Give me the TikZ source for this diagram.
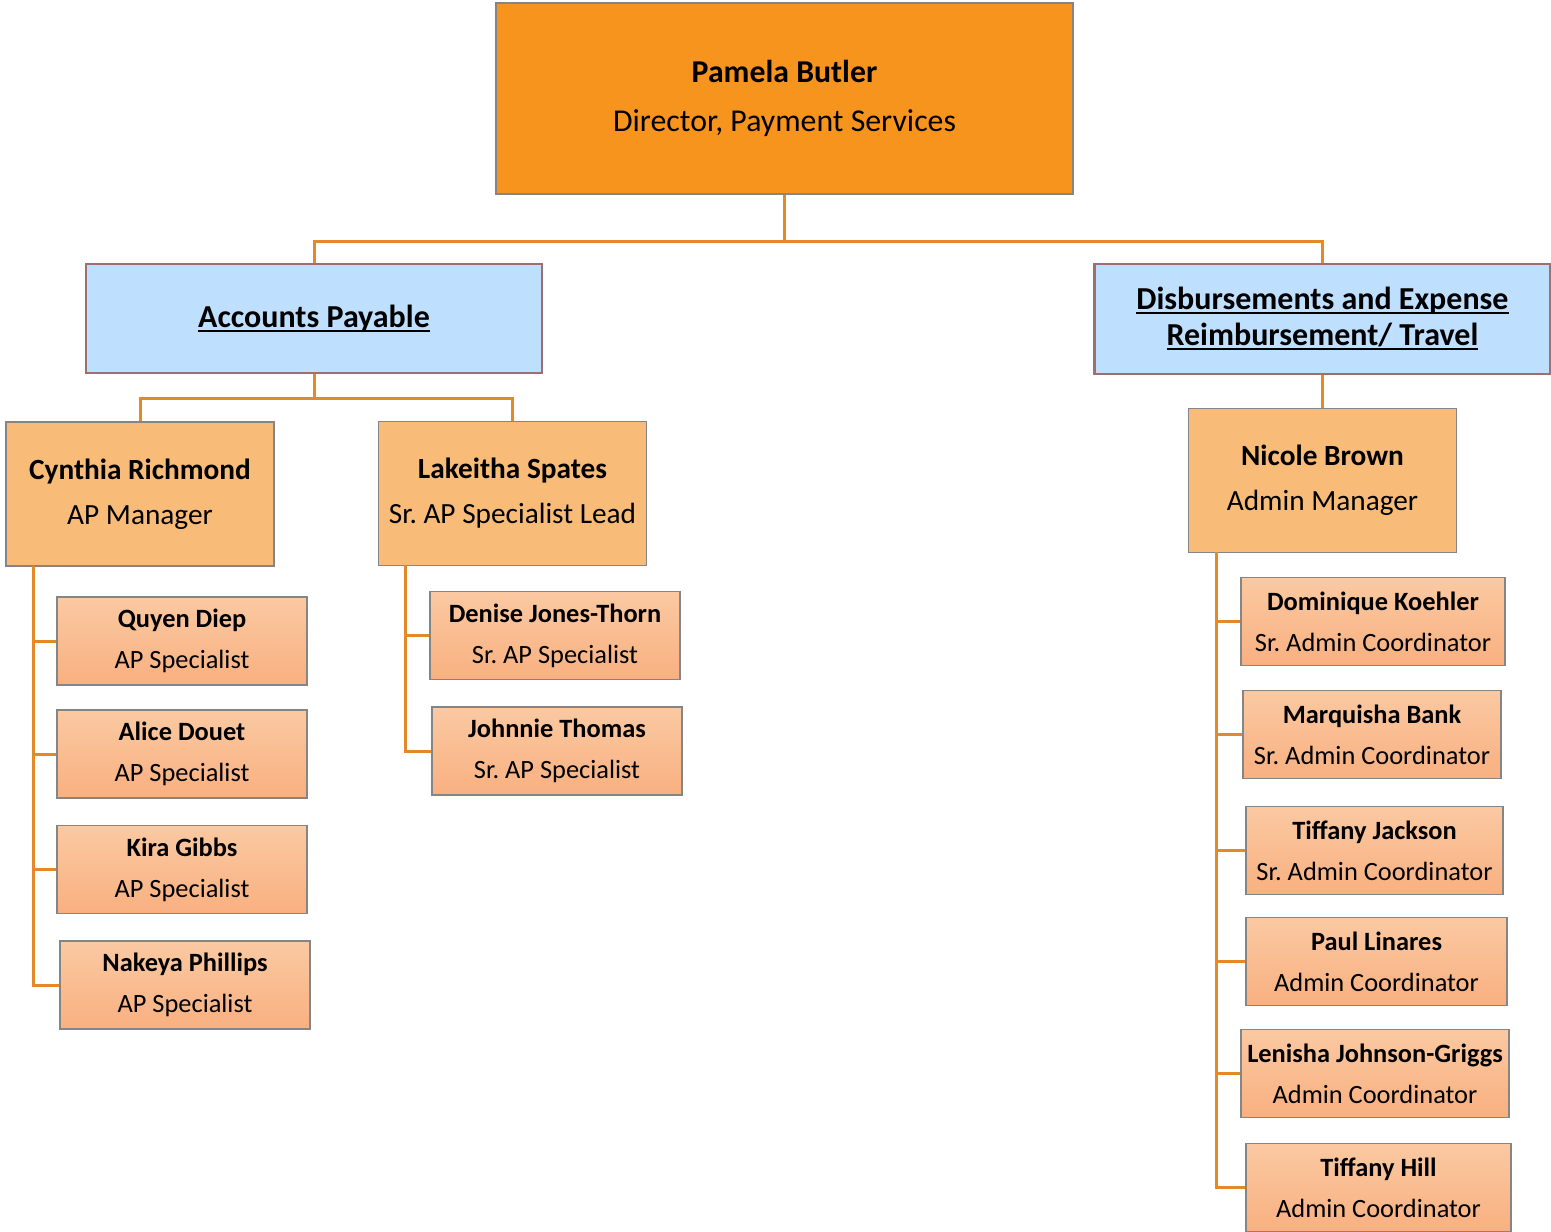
\documentclass[tikz,border=0pt]{standalone}
\usepackage{fontspec}
\setmainfont{Carlito}
\frenchspacing
\newcommand\ulbar[1]{\setbox0\hbox{#1}\rlap{\rule[-4.5pt]{\wd0}{2.2pt}}\box0}
\definecolor{dirfill}{HTML}{F7941E}
\definecolor{mgrfill}{HTML}{F8BC78}
\definecolor{leaftop}{HTML}{FAC9A2}
\definecolor{leafbot}{HTML}{F9B080}
\definecolor{deptfill}{HTML}{BFDFFF}
\definecolor{deptline}{HTML}{9E6E72}
\definecolor{boxline}{HTML}{858585}
\definecolor{wire}{HTML}{E3892A}
\tikzset{
  box/.style={rectangle, inner sep=0pt, align=center, draw=boxline, line width=1.6pt},
  director/.style={box, fill=dirfill, minimum width=577pt, minimum height=191pt,
    font=\fontsize{31.8}{49}\selectfont},
  dept/.style={box, fill=deptfill, draw=deptline, line width=2.2pt,
    font=\fontsize{32}{36}\selectfont\bfseries},
  manager/.style={box, fill=mgrfill, minimum width=268pt, minimum height=144pt,
    font=\fontsize{29.3}{45}\selectfont},
  leaf/.style={box, top color=leaftop, bottom color=leafbot, minimum width=250pt,
    minimum height=88pt, font=\fontsize{26.4}{41}\selectfont},
  conn/.style={draw=wire, line width=3pt}
}
\begin{document}
\begin{tikzpicture}[x=1pt,y=-1pt]
\useasboundingbox (0,0) rectangle (1551,1232);

% connectors (drawn first so the boxes sit on top)
\coordinate (bus) at (784.5,241);
\coordinate (apbus) at (314,398);
\coordinate (crspine) at (33,566);
\coordinate (lsspine) at (405,565);
\coordinate (nbspine) at (1216,552);

% top level
\node[director] (dir) at (784.5,98.5) {\textbf{Pamela Butler}\\Director, Payment Services};

% departments
\node[dept, minimum width=456pt, minimum height=109pt] (ap) at (314,318.5) {\ulbar{Accounts Payable}};
\node[dept, minimum width=456pt, minimum height=110pt] (der) at (1322.5,319)
  {\ulbar{Disbursements and Expense}\\\ulbar{Reimbursement/ Travel}};

% managers
\node[manager] (cr) at (140,494) {\textbf{Cynthia Richmond}\\AP Manager};
\node[manager] (ls) at (512.5,493.5) {\textbf{Lakeitha Spates}\\Sr. AP Specialist Lead};
\node[manager] (nb) at (1322.5,480.5) {\textbf{Nicole Brown}\\Admin Manager};

% Accounts Payable staff
\node[leaf] (qd) at (182,641) {\textbf{Quyen Diep}\\AP Specialist};
\node[leaf] (ad) at (182,754) {\textbf{Alice Douet}\\AP Specialist};
\node[leaf] (kg) at (182,869.5) {\textbf{Kira Gibbs}\\AP Specialist};
\node[leaf] (np) at (185,985) {\textbf{Nakeya Phillips}\\AP Specialist};
\node[leaf] (dj) at (555,635.5) {\textbf{Denise Jones-Thorn}\\Sr. AP Specialist};
\node[leaf] (jt) at (557,751) {\textbf{Johnnie Thomas}\\Sr. AP Specialist};

% Disbursements staff
\node[leaf, minimum width=264pt] (dk) at (1373,621.5) {\textbf{Dominique Koehler}\\Sr. Admin Coordinator};
\node[leaf, minimum width=258pt] (mb) at (1372,734.5) {\textbf{Marquisha Bank}\\Sr. Admin Coordinator};
\node[leaf, minimum width=257pt] (tj) at (1374.5,850.5) {\textbf{Tiffany Jackson}\\Sr. Admin Coordinator};
\node[leaf, minimum width=261pt] (pl) at (1376.5,961.5) {\textbf{Paul Linares}\\Admin Coordinator};
\node[leaf, minimum width=268pt] (lj) at (1375,1073.5) {\textbf{Lenisha Johnson-Griggs}\\Admin Coordinator};
\node[leaf, minimum width=265pt] (th) at (1378.5,1187.5) {\textbf{Tiffany Hill}\\Admin Coordinator};

\draw[conn] (dir.south) -- (bus) -| (ap.north);
\draw[conn] (bus) -| (der.north);
\draw[conn] (ap.south) -- (apbus) -| (cr.north);
\draw[conn] (apbus) -| (ls.north);
\draw[conn] (der.south) -- (nb.north);
\foreach \n in {qd,ad,kg,np} \draw[conn] (crspine) |- (\n.west);
\foreach \n in {dj,jt} \draw[conn] (lsspine) |- (\n.west);
\foreach \n in {dk,mb,tj,pl,lj,th} \draw[conn] (nbspine) |- (\n.west);
\end{tikzpicture}
\end{document}
